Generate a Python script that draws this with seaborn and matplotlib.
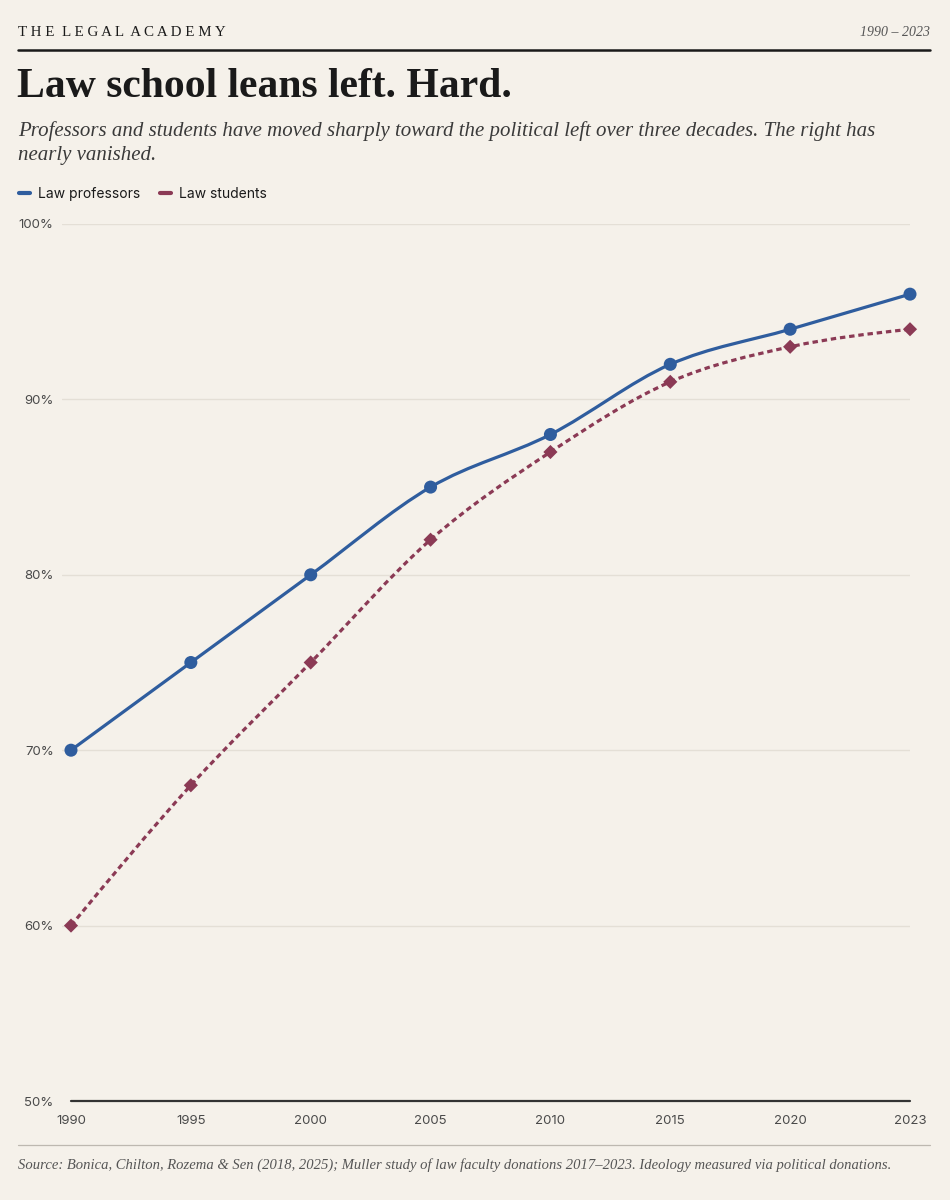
import numpy as np
import pandas as pd
import matplotlib
matplotlib.use("Agg")
import matplotlib.pyplot as plt
import seaborn as sns
from matplotlib.path import Path
from matplotlib.patches import PathPatch
from matplotlib.lines import Line2D

# ------------------ Data ------------------
years = ["1990", "1995", "2000", "2005", "2010", "2015", "2020", "2023"]
professors = [70, 75, 80, 85, 88, 92, 94, 96]
students = [60, 68, 75, 82, 87, 91, 93, 94]
y_ticks = [50, 60, 70, 80, 90, 100]

BG = "#f5f1ea"
BLUE = "#2f5d9e"
MAROON = "#8b3a55"
INK = "#1a1a1a"
GREY = "#555555"
GRID = "#e4dfd6"

SERIF = ["Liberation Serif", "DejaVu Serif"]
SANS = ["Inter", "DejaVu Sans"]


# monotone-x curve (same shape as d3.curveMonotoneX), drawn as bezier segments
def monotone_path(xs, ys):
    xs = np.asarray(xs, float)
    ys = np.asarray(ys, float)
    n = len(xs)
    t = np.zeros(n)
    for i in range(1, n - 1):
        h0 = xs[i] - xs[i - 1]
        h1 = xs[i + 1] - xs[i]
        s0 = (ys[i] - ys[i - 1]) / h0
        s1 = (ys[i + 1] - ys[i]) / h1
        p = (s0 * h1 + s1 * h0) / (h0 + h1)
        t[i] = (np.sign(s0) + np.sign(s1)) * min(abs(s0), abs(s1), 0.5 * abs(p))
    t[0] = (3 * (ys[1] - ys[0]) / (xs[1] - xs[0]) - t[1]) / 2
    t[-1] = (3 * (ys[-1] - ys[-2]) / (xs[-1] - xs[-2]) - t[-2]) / 2
    verts = [(xs[0], ys[0])]
    codes = [Path.MOVETO]
    for i in range(n - 1):
        dx = (xs[i + 1] - xs[i]) / 3
        verts += [(xs[i] + dx, ys[i] + dx * t[i]),
                  (xs[i + 1] - dx, ys[i + 1] - dx * t[i + 1]),
                  (xs[i + 1], ys[i + 1])]
        codes += [Path.CURVE4] * 3
    return Path(verts, codes)


df = pd.DataFrame({
    "year": years * 2,
    "pos": list(range(len(years))) * 2,
    "value": professors + students,
    "group": ["Law professors"] * len(years) + ["Law students"] * len(years),
})

sns.set_theme(style="white")
plt.rcParams["font.family"] = SANS

fig = plt.figure(figsize=(9.5, 12), dpi=100, facecolor=BG)
W, H = 950, 1200

# axes: x from 62px to 910px, y from 224px to 1101px
ax = fig.add_axes([62 / W, 1 - 1101 / H, (910 - 62) / W, (1101 - 224) / H])
ax.set_facecolor(BG)

for yv in y_ticks[1:]:
    ax.axhline(yv, color=GRID, lw=1, zorder=0)
ax.plot([0, len(years) - 1], [50, 50], color="#333333", lw=1.6, zorder=1,
        clip_on=False)

# smoothed lines
ax.add_patch(PathPatch(monotone_path(range(len(years)), professors),
                       fill=False, edgecolor=BLUE, lw=2.3, zorder=3,
                       capstyle="round", clip_on=False))
ax.add_patch(PathPatch(monotone_path(range(len(years)), students),
                       fill=False, edgecolor=MAROON, lw=2.3, zorder=2,
                       linestyle=(0, (1.7, 1.2)), clip_on=False))

# markers
prof = df[df["group"] == "Law professors"]
stud = df[df["group"] == "Law students"]
sns.scatterplot(data=prof, x="pos", y="value", ax=ax, color=BLUE, marker="o",
                s=88, edgecolor="none", zorder=4, clip_on=False, legend=False)
sns.scatterplot(data=stud, x="pos", y="value", ax=ax, color=MAROON, marker="D",
                s=52, edgecolor="none", zorder=4, clip_on=False, legend=False)

ax.set_xlim(-0.075, len(years) - 1)
ax.set_ylim(50, 100)
ax.set_xticks(range(len(years)))
ax.set_xticklabels(years)
ax.set_yticks(y_ticks)
ax.set_yticklabels([f"{v}%" for v in y_ticks])
ax.tick_params(axis="both", length=0, labelsize=9.5, colors="#4a4a4a")
ax.tick_params(axis="x", pad=10)
ax.tick_params(axis="y", pad=6)
ax.set_xlabel("")
ax.set_ylabel("")
for s in ax.spines.values():
    s.set_visible(False)

# ------------------ Header ------------------
fig.text(18 / W, 1 - 33 / H, "T H E  L E G A L  A C A D E M Y",
         family=SERIF, fontsize=10.8, color=INK, va="center", ha="left")
fig.text(930 / W, 1 - 33 / H, "1990 – 2023", family=SERIF, style="italic",
         fontsize=10, color=GREY, va="center", ha="right")
fig.add_artist(Line2D([18 / W, 930 / W], [1 - 50 / H, 1 - 50 / H],
                      color=INK, lw=1.8, transform=fig.transFigure))
fig.text(17 / W, 1 - 87 / H, "Law school leans left. Hard.", family=SERIF,
         fontsize=30, fontweight="bold", color=INK, va="center", ha="left")
fig.text(18 / W, 1 - 143 / H,
         "Professors and students have moved sharply toward the political left over three decades. The right has\nnearly vanished.",
         family=SERIF, style="italic", fontsize=15, color="#3a3a3a",
         va="center", ha="left", linespacing=1.4)

# legend
handles = [Line2D([0], [0], color=BLUE, lw=3),
           Line2D([0], [0], color=MAROON, lw=3)]
fig.legend(handles, ["Law professors", "Law students"],
           loc="center left", bbox_to_anchor=(6 / W, 1 - 194 / H),
           ncol=2, frameon=False, handlelength=0.8, handletextpad=0.6,
           columnspacing=1.4, prop={"family": SANS, "size": 10},
           labelcolor=INK)

# ------------------ Footer ------------------
fig.add_artist(Line2D([18 / W, 930 / W], [1 - 1145 / H, 1 - 1145 / H],
                      color="#bdb8b0", lw=0.9, transform=fig.transFigure))
fig.text(18 / W, 1 - 1165 / H,
         "Source: Bonica, Chilton, Rozema & Sen (2018, 2025); Muller study of law faculty donations 2017–2023. Ideology measured via political donations.",
         family=SERIF, style="italic", fontsize=10.5, color=GREY,
         va="center", ha="left")

fig.savefig("out.png", dpi=100, facecolor=BG)
